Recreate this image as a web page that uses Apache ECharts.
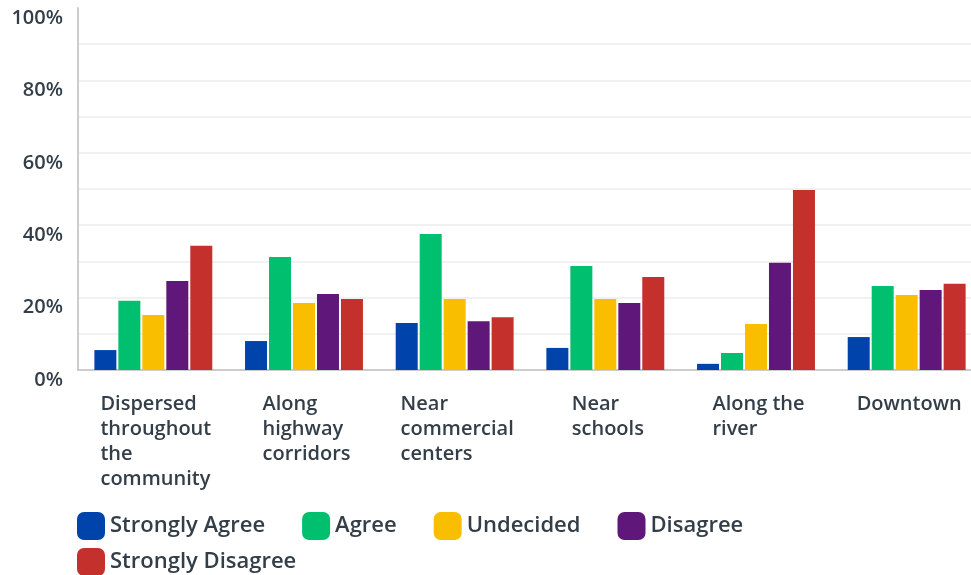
<!DOCTYPE html>
<html>
<head>
<meta charset="utf-8">
<script src="https://cdn.jsdelivr.net/npm/echarts@6/dist/echarts.min.js"></script>
<style>
  html, body { margin: 0; padding: 0; background: #fff; }
  #main { width: 971px; height: 575px; }
</style>
</head>
<body>
<div id="main"></div>
<script>
// categories and answers
const categories = [
  'Dispersed\nthroughout\nthe\ncommunity',
  'Along\nhighway\ncorridors',
  'Near\ncommercial\ncenters',
  'Near\nschools',
  'Along the\nriver',
  'Downtown'
];
const seriesNames = ['Strongly Agree', 'Agree', 'Undecided', 'Disagree', 'Strongly Disagree'];
// percent values per answer (one per category)
const stronglyAgree    = [5.5, 8.0, 13.0, 6.1, 1.7, 9.1];
const agree            = [19.1, 31.2, 37.6, 28.7, 4.7, 23.2];
const undecided        = [15.2, 18.5, 19.6, 19.6, 12.7, 20.7];
const disagree         = [24.6, 21.0, 13.5, 18.5, 29.6, 22.1];
const stronglyDisagree = [34.3, 19.6, 14.6, 25.7, 49.7, 23.8];
const yTicks = [0, 20, 40, 60, 80, 100];

const colors = ['#0043aa', '#00bf6f', '#f9be00', '#5f1879', '#c4302b'];
const textColor = '#333e48';
const font = '"Open Sans", "Noto Sans", sans-serif';

const allData = [stronglyAgree, agree, undecided, disagree, stronglyDisagree];

const chart = echarts.init(document.getElementById('main'));

const legendText = { color: textColor, fontSize: 22, fontWeight: 600, fontFamily: font };

const option = {
  animation: false,
  color: colors,
  textStyle: { fontFamily: font },
  grid: { left: 78, width: 904, top: 8, bottom: 205, outerBoundsMode: 'none' },
  legend: [
    {
      data: seriesNames.slice(0, 4),
      left: 72, top: 507,
      itemWidth: 28, itemHeight: 28, itemGap: 37,
      icon: 'roundRect',
      textStyle: legendText
    },
    {
      data: seriesNames.slice(4),
      left: 72, top: 543,
      itemWidth: 28, itemHeight: 28,
      icon: 'roundRect',
      textStyle: legendText
    }
  ],
  xAxis: {
    type: 'category',
    data: categories,
    axisLine: { lineStyle: { color: '#cccccc', width: 2 } },
    axisTick: { show: false },
    splitLine: { show: false },
    axisLabel: {
      interval: 0,
      margin: 22,
      padding: [0, 0, 0, 5],
      color: textColor,
      fontSize: 20,
      fontWeight: 600,
      fontFamily: font,
      lineHeight: 25,
      formatter: function (value) {
        return value.split('\n').map(l => '{l|' + l + '}').join('\n');
      },
      rich: {
        l: { align: 'left', color: textColor, fontSize: 20, fontWeight: 600, fontFamily: font, lineHeight: 25 }
      }
    }
  },
  yAxis: {
    type: 'value',
    min: 0,
    max: 100,
    interval: 10,
    axisLine: { show: true, lineStyle: { color: '#cccccc', width: 2 } },
    axisTick: { show: false },
    splitLine: { showMaxLine: false, lineStyle: { color: '#ededed', width: 1.5 } },
    axisLabel: {
      margin: 15,
      color: textColor,
      fontSize: 20,
      fontWeight: 600,
      fontFamily: font,
      verticalAlign: 'top',
      formatter: function (v) {
        return yTicks.indexOf(v) >= 0 ? v + '%' : '';
      }
    }
  },
  series: seriesNames.map((name, i) => ({
    name: name,
    type: 'bar',
    data: allData[i],
    barWidth: 22,
    barGap: '9%'
  }))
};

chart.setOption(option);
</script>
</body>
</html>
